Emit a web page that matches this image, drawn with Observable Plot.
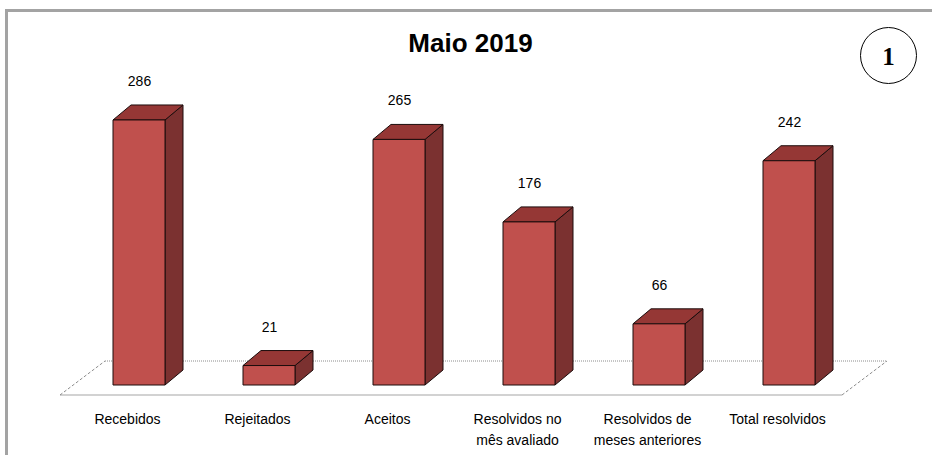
<!DOCTYPE html>
<html><head><meta charset="utf-8">
<script src="https://cdn.jsdelivr.net/npm/d3@7"></script>
<script src="https://cdn.jsdelivr.net/npm/@observablehq/plot@0.6"></script>
<style>
body{margin:0;background:#fff;}
#wrap{position:relative;width:932px;height:455px;overflow:hidden;}
#frame{position:absolute;left:5px;top:9px;right:-10px;bottom:-10px;border-left:3px solid #a3a3a3;border-top:3px solid #a3a3a3;}
#chart{position:absolute;left:0;top:0;}
</style></head>
<body><div id="wrap"><div id="frame"></div><div id="chart"></div></div>
<script>
const categories = ["Recebidos", "Rejeitados", "Aceitos", "Resolvidos no\nmês avaliado", "Resolvidos de\nmeses anteriores", "Total resolvidos"];
const counts = [286, 21, 265, 176, 66, 242];
const title = "Maio 2019";
const badge = "1";

const data = categories.map((c, i) => ({category: c, value: counts[i]}));
const DX = 18, DY = -15;
const colors = {front: "#c0504d", top: "#953735", side: "#7b3130", edge: "#1c0c0c"};

function bandwidthOf(x) {
  return typeof x.bandwidth === "function" ? x.bandwidth() : x.bandwidth;
}

function floor(index, scales) {
  const x = scales.x, y = scales.y;
  const bw = bandwidthOf(x);
  const xs = categories.map(c => x(c));
  const left = d3.min(xs) - 40, right = d3.max(xs) + bw + 40;
  const yb = y(0);
  const g = d3.create("svg:g").attr("fill", "none");
  g.append("line").attr("x1", left - 13).attr("x2", right - 13).attr("y1", yb + 10).attr("y2", yb + 10)
    .attr("stroke", "#a6a6a6").attr("stroke-width", 1.2);
  g.append("line").attr("x1", left + 32).attr("x2", right + 32).attr("y1", yb - 24).attr("y2", yb - 24)
    .attr("stroke", "#8c8c8c").attr("stroke-dasharray", "1,1");
  g.append("line").attr("x1", left - 13).attr("x2", left + 32).attr("y1", yb + 10).attr("y2", yb - 24)
    .attr("stroke", "#8c8c8c").attr("stroke-dasharray", "3,2");
  g.append("line").attr("x1", right - 13).attr("x2", right + 32).attr("y1", yb + 10).attr("y2", yb - 24)
    .attr("stroke", "#8c8c8c").attr("stroke-dasharray", "3,2");
  return g.node();
}

function bars3d(index, scales) {
  const x = scales.x, y = scales.y;
  const bw = bandwidthOf(x);
  const g = d3.create("svg:g").attr("stroke", colors.edge).attr("stroke-width", 1).attr("stroke-linejoin", "round");
  for (const i of index) {
    const d = data[i];
    const x0 = x(d.category), x1 = x0 + bw, yb = y(0), yt = y(d.value);
    g.append("polygon").attr("fill", colors.side)
      .attr("points", [[x1, yt], [x1 + DX, yt + DY], [x1 + DX, yb + DY], [x1, yb]].join(" "));
    g.append("polygon").attr("fill", colors.top)
      .attr("points", [[x0, yt], [x0 + DX, yt + DY], [x1 + DX, yt + DY], [x1, yt]].join(" "));
    g.append("rect").attr("fill", colors.front)
      .attr("x", x0).attr("y", yt).attr("width", bw).attr("height", yb - yt);
  }
  return g.node();
}

const chart = Plot.plot({
  width: 932,
  height: 455,
  marginLeft: 34,
  marginRight: 38,
  marginTop: 107,
  marginBottom: 70,
  x: {domain: categories, padding: 0.6, axis: null},
  y: {domain: [0, 300], axis: null},
  style: {fontFamily: "'Liberation Sans', Arial, sans-serif", background: "transparent", color: "#000"},
  marks: [
    Plot.ruleY([0], {render: floor}),
    Plot.barY(data, {x: "category", y: "value", render: bars3d}),
    Plot.text(data, {x: "category", y: "value", text: d => String(d.value), dy: -39, fontSize: 14, fill: "#000"}),
    Plot.text(data, {x: "category", y: () => 0, text: "category", dy: 24, dx: -12, lineAnchor: "top", lineHeight: 1.5, fontSize: 14, fill: "#000"}),
    Plot.text([title], {frameAnchor: "top", dx: 6, dy: -64, lineAnchor: "middle", textAnchor: "middle", fontSize: 26, fontWeight: "bold", fill: "#000",
      fontFamily: "'Liberation Sans Narrow', 'Arial Narrow', 'Liberation Sans', sans-serif"}),
    Plot.dot([badge], {frameAnchor: "top-right", dx: -6, dy: -52, r: 28, stroke: "#000", strokeWidth: 1, fill: "none"}),
    Plot.text([badge], {frameAnchor: "top-right", dx: -6, dy: -51, lineAnchor: "middle", textAnchor: "middle", fontSize: 25, fontWeight: "bold", fill: "#000",
      fontFamily: "'Liberation Serif', 'Times New Roman', serif"})
  ]
});
document.getElementById("chart").appendChild(chart);
</script>
</body></html>
